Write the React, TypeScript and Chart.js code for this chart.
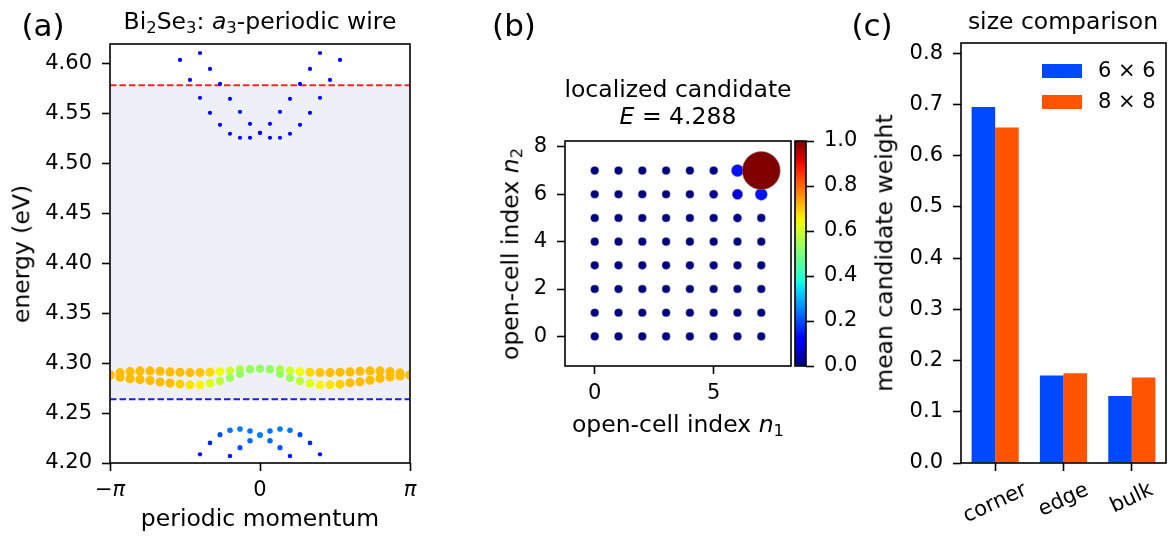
import React, { useEffect, useRef } from "react";
import { Chart, registerables } from "chart.js";

Chart.register(...registerables);

const W = 1175;
const H = 543;
const FONT = "'DejaVu Sans', 'Liberation Sans', sans-serif";
const TICK_SIZE = 21;
const LABEL_SIZE = 23.5;

// ---------------- panel (a): band structure ----------------
const momentumStepsPerPi = 15; // momentum grid k = -π + i·π/15
const momentumTickValues = [-Math.PI, 0, Math.PI];
const momentumTickLabels = ["−π", "0", "π"];
const energyTicks = [4.2, 4.25, 4.3, 4.35, 4.4, 4.45, 4.5, 4.55, 4.6];
const energyRange = [4.2, 4.62];
const conductionEdge = 4.5786;
const valenceEdge = 4.2639;

const surfaceIdx = [0, 1, 2, 3, 4, 5, 6, 7, 8, 9, 10, 11, 12, 13, 14, 15, 16, 17, 18, 19, 20, 21, 22, 23, 24, 25, 26, 27, 28, 29, 30];
const surfaceUpperE = [4.2884, 4.2906, 4.2916, 4.2923, 4.2923, 4.292, 4.2913, 4.291, 4.2906, 4.2906, 4.291, 4.2916, 4.2926, 4.294, 4.2943, 4.2946, 4.2943, 4.294, 4.2926, 4.2916, 4.291, 4.2906, 4.2906, 4.291, 4.2913, 4.292, 4.2923, 4.2923, 4.2916, 4.2903, 4.2884];
const surfaceUpperW = [0.71, 0.71, 0.71, 0.71, 0.71, 0.71, 0.71, 0.71, 0.71, 0.7, 0.68, 0.64, 0.6, 0.56, 0.54, 0.53, 0.54, 0.56, 0.6, 0.64, 0.68, 0.7, 0.71, 0.71, 0.71, 0.71, 0.71, 0.71, 0.71, 0.71, 0.71];
const surfaceLowerE = [4.2878, 4.286, 4.2845, 4.2836, 4.2826, 4.2812, 4.2801, 4.2791, 4.2784, 4.2784, 4.2799, 4.2822, 4.2853, 4.2893, 4.2936, 4.2946, 4.2936, 4.2893, 4.2853, 4.2822, 4.2799, 4.2782, 4.2786, 4.279, 4.2803, 4.2813, 4.283, 4.2846, 4.2863, 4.2872, 4.2878];
const surfaceLowerW = [0.71, 0.71, 0.71, 0.71, 0.71, 0.71, 0.71, 0.69, 0.67, 0.65, 0.62, 0.58, 0.54, 0.53, 0.53, 0.53, 0.53, 0.53, 0.54, 0.58, 0.62, 0.65, 0.67, 0.69, 0.71, 0.71, 0.71, 0.71, 0.71, 0.71, 0.71];

const condOuterIdx = [7, 8, 9, 10, 11, 12, 13, 14, 15, 16, 17, 18, 19, 20, 21, 22, 23];
const condOuterE = [4.604, 4.584, 4.566, 4.551, 4.539, 4.53, 4.526, 4.526, 4.531, 4.526, 4.526, 4.53, 4.539, 4.551, 4.566, 4.584, 4.604];
const condOuterW = [0.12, 0.12, 0.12, 0.12, 0.12, 0.12, 0.12, 0.12, 0.12, 0.12, 0.12, 0.12, 0.12, 0.12, 0.12, 0.12, 0.12];
const condInnerIdx = [9, 10, 11, 12, 13, 14, 15, 16, 17, 18, 19, 20, 21];
const condInnerE = [4.611, 4.595, 4.58, 4.565, 4.552, 4.54, 4.531, 4.54, 4.552, 4.565, 4.58, 4.595, 4.611];
const condInnerW = [0.12, 0.12, 0.12, 0.12, 0.12, 0.12, 0.12, 0.12, 0.12, 0.12, 0.12, 0.12, 0.12];

const valOuterIdx = [9, 10, 11, 12, 13, 14, 15, 16, 17, 18, 19, 20, 21];
const valOuterE = [4.2087, 4.2201, 4.2284, 4.2328, 4.2341, 4.2321, 4.2281, 4.2321, 4.2341, 4.2328, 4.2284, 4.2201, 4.2087];
const valOuterW = [0.13, 0.16, 0.2, 0.24, 0.25, 0.24, 0.25, 0.24, 0.25, 0.24, 0.2, 0.16, 0.13];
const valInnerIdx = [12, 13, 14, 15, 16, 17, 18];
const valInnerE = [4.207, 4.2153, 4.2224, 4.2281, 4.2224, 4.2153, 4.207];
const valInnerW = [0.15, 0.21, 0.23, 0.25, 0.23, 0.21, 0.15];

// ---------------- panel (b): candidate weight map ----------------
const cellN1 = [0, 1, 2, 3, 4, 5, 6, 7];
const cellN2 = [0, 1, 2, 3, 4, 5, 6, 7];
const cellWeights = [
  [0.004, 0.004, 0.004, 0.004, 0.004, 0.004, 0.004, 0.004],
  [0.004, 0.004, 0.004, 0.004, 0.004, 0.004, 0.004, 0.004],
  [0.004, 0.004, 0.004, 0.004, 0.004, 0.004, 0.004, 0.004],
  [0.004, 0.004, 0.004, 0.004, 0.004, 0.004, 0.004, 0.004],
  [0.004, 0.004, 0.004, 0.004, 0.004, 0.004, 0.004, 0.004],
  [0.004, 0.004, 0.004, 0.004, 0.004, 0.006, 0.02, 0.008],
  [0.004, 0.004, 0.004, 0.004, 0.005, 0.02, 0.08, 0.14],
  [0.004, 0.004, 0.004, 0.004, 0.005, 0.008, 0.14, 1.0],
];
const cellAxisRange = [-1.25, 8.25];
const cellXTicks = [0, 5];
const cellYTicks = [0, 2, 4, 6, 8];
const colorbarTicks = [0, 0.2, 0.4, 0.6, 0.8, 1.0];

// ---------------- panel (c): size comparison ----------------
const regionCategories = ["corner", "edge", "bulk"];
const weight6x6 = [0.695, 0.171, 0.131];
const weight8x8 = [0.655, 0.175, 0.167];
const sizeLabels = ["6 × 6", "8 × 8"];
const weightTicks = [0, 0.1, 0.2, 0.3, 0.4, 0.5, 0.6, 0.7, 0.8];
const weightRange = [0, 0.82];

// ---------------- helpers ----------------
const JET: Record<string, number[][]> = {
  r: [[0, 0], [0.35, 0], [0.66, 1], [0.89, 1], [1, 0.5]],
  g: [[0, 0], [0.125, 0], [0.375, 1], [0.64, 1], [0.91, 0], [1, 0]],
  b: [[0, 0.5], [0.11, 1], [0.34, 1], [0.65, 0], [1, 0]],
};
function seg(s: number[][], x: number) {
  for (let i = 1; i < s.length; i++) {
    if (x <= s[i][0]) {
      const [x0, y0] = s[i - 1];
      const [x1, y1] = s[i];
      return y0 + ((y1 - y0) * (x - x0)) / (x1 - x0);
    }
  }
  return s[s.length - 1][1];
}
function jet(x: number) {
  const v = Math.max(0, Math.min(1, x));
  const c = (k: string) => Math.round(255 * seg(JET[k], v));
  return `rgb(${c("r")},${c("g")},${c("b")})`;
}
const bandRadius = (w: number) => Math.sqrt(1.0 + 28 * w);
const cellRadius = (w: number) => 4 + 15 * w;
const kOf = (i: number) => -Math.PI + (i * Math.PI) / momentumStepsPerPi;

const framePlugin = {
  id: "frame",
  afterDatasetsDraw(chart: any) {
    const { ctx, chartArea: a } = chart;
    ctx.save();
    ctx.strokeStyle = "#000";
    ctx.lineWidth = 1.6;
    ctx.strokeRect(a.left, a.top, a.right - a.left, a.bottom - a.top);
    ctx.restore();
  },
};

const gridOpts = {
  display: true,
  drawOnChartArea: false,
  drawTicks: true,
  tickLength: 8,
  tickWidth: 1.6,
  tickColor: "#000",
};
const tickFont = { family: FONT, size: TICK_SIZE };

function linAxis(range: number[], ticks: number[], fmt: (v: number, i: number) => string, fit: (s: any) => void, pad = 7, font: any = tickFont) {
  return {
    type: "linear",
    min: range[0],
    max: range[1],
    afterBuildTicks: (s: any) => {
      s.ticks = ticks.map((v) => ({ value: v }));
    },
    afterFit: fit,
    ticks: { font, color: "#000", padding: pad, autoSkip: false, maxRotation: 0, callback: (v: number, i: number) => fmt(v, i) },
    grid: gridOpts,
    border: { display: false },
  };
}

function areaLayout(area: { l: number; t: number; r: number; b: number }) {
  return {
    layout: { padding: { left: 0, top: area.t, right: W - area.r, bottom: 0 } },
    xFit: (s: any) => {
      s.height = H - area.b;
    },
    yFit: (s: any) => {
      s.width = area.l;
    },
  };
}

function bandPoints(idx: number[], e: number[]) {
  return idx.map((i, j) => ({ x: kOf(i), y: e[j] }));
}
function bandDataset(idx: number[], e: number[], w: number[]) {
  return {
    data: bandPoints(idx, e),
    backgroundColor: w.map(jet),
    pointRadius: w.map(bandRadius),
    pointBorderWidth: 0,
    pointHoverRadius: w.map(bandRadius),
    showLine: false,
    order: 0,
  };
}

function makeBandChart(canvas: HTMLCanvasElement) {
  const A = { l: 110, t: 44, r: 410, b: 463 };
  const L = areaLayout(A);
  const momentumFont = (ctx: any) => ({
    family: FONT,
    size: TICK_SIZE,
    style: momentumTickLabels[ctx.index] === "0" ? "normal" : "italic",
  });
  return new Chart(canvas, {
    type: "scatter",
    data: {
      datasets: [
        {
          data: [
            { x: -Math.PI, y: conductionEdge },
            { x: Math.PI, y: conductionEdge },
          ],
          showLine: true,
          borderColor: "rgb(240,40,40)",
          borderWidth: 2,
          borderDash: [6.5, 3],
          pointRadius: 0,
          fill: { value: valenceEdge },
          backgroundColor: "#eff0f7",
          order: 10,
        },
        {
          data: [
            { x: -Math.PI, y: valenceEdge },
            { x: Math.PI, y: valenceEdge },
          ],
          showLine: true,
          borderColor: "rgb(30,30,235)",
          borderWidth: 2,
          borderDash: [6.5, 3],
          pointRadius: 0,
          order: 10,
        },
        bandDataset(condOuterIdx, condOuterE, condOuterW),
        bandDataset(condInnerIdx, condInnerE, condInnerW),
        bandDataset(valOuterIdx, valOuterE, valOuterW),
        bandDataset(valInnerIdx, valInnerE, valInnerW),
        bandDataset(surfaceIdx, surfaceLowerE, surfaceLowerW),
        bandDataset(surfaceIdx, surfaceUpperE, surfaceUpperW),
      ] as any,
    },
    options: {
      animation: false,
      responsive: false,
      devicePixelRatio: 1,
      events: [],
      layout: L.layout,
      plugins: { legend: { display: false }, tooltip: { enabled: false }, filler: { drawTime: "beforeDatasetsDraw" } as any },
      scales: {
        x: linAxis([-Math.PI, Math.PI], momentumTickValues, (_v, i) => momentumTickLabels[i], L.xFit, 7, momentumFont),
        y: linAxis(energyRange, energyTicks, (v) => v.toFixed(2), L.yFit, 10),
      } as any,
    },
    plugins: [framePlugin],
  });
}

function makeCellChart(canvas: HTMLCanvasElement) {
  const A = { l: 565, t: 141, r: 791, b: 366 };
  const L = areaLayout(A);
  const pts: any[] = [];
  cellN2.forEach((n2, r) => cellN1.forEach((n1, c) => pts.push({ x: n1, y: n2, w: cellWeights[r][c] })));
  pts.sort((p, q) => p.w - q.w);
  return new Chart(canvas, {
    type: "scatter",
    data: {
      datasets: [
        {
          data: pts.map((p) => ({ x: p.x, y: p.y })),
          backgroundColor: pts.map((p) => jet(p.w)),
          pointRadius: pts.map((p) => cellRadius(p.w)),
          pointBorderColor: "rgba(140,140,140,0.8)",
          pointBorderWidth: 0.6,
        },
      ] as any,
    },
    options: {
      animation: false,
      responsive: false,
      devicePixelRatio: 1,
      events: [],
      layout: L.layout,
      plugins: { legend: { display: false }, tooltip: { enabled: false } },
      scales: {
        x: linAxis(cellAxisRange, cellXTicks, (v) => String(v), L.xFit),
        y: linAxis(cellAxisRange, cellYTicks, (v) => String(v), L.yFit, 10),
      } as any,
    },
    plugins: [framePlugin],
  });
}

function makeColorbar(canvas: HTMLCanvasElement) {
  const A = { l: 795, t: 141, r: 806, b: 366 };
  const gradPlugin = {
    id: "jetbar",
    beforeDatasetsDraw(chart: any) {
      const { ctx, chartArea: a } = chart;
      const g = ctx.createLinearGradient(0, a.bottom, 0, a.top);
      for (let i = 0; i <= 40; i++) g.addColorStop(i / 40, jet(i / 40));
      ctx.save();
      ctx.fillStyle = g;
      ctx.fillRect(a.left, a.top, a.right - a.left, a.bottom - a.top);
      ctx.restore();
    },
  };
  return new Chart(canvas, {
    type: "scatter",
    data: { datasets: [{ data: [], pointRadius: 0 }] },
    options: {
      animation: false,
      responsive: false,
      devicePixelRatio: 1,
      events: [],
      layout: { padding: { left: A.l, top: A.t, right: 0, bottom: H - A.b } },
      plugins: { legend: { display: false }, tooltip: { enabled: false } },
      scales: {
        x: { type: "linear", display: false, min: 0, max: 1 },
        y: {
          type: "linear",
          position: "right",
          min: 0,
          max: 1,
          afterBuildTicks: (s: any) => {
            s.ticks = colorbarTicks.map((v) => ({ value: v }));
          },
          afterFit: (s: any) => {
            s.width = W - A.r;
          },
          ticks: { font: tickFont, color: "#000", padding: 10, callback: (v: number) => v.toFixed(1) },
          grid: gridOpts,
          border: { display: false },
        },
      } as any,
    },
    plugins: [gradPlugin, framePlugin],
  });
}

function makeBarChart(canvas: HTMLCanvasElement) {
  const A = { l: 961, t: 43, r: 1166, b: 463 };
  const L = areaLayout(A);
  const legendPlugin = {
    id: "innerLegend",
    afterDatasetsDraw(chart: any) {
      const { ctx, chartArea: a } = chart;
      ctx.save();
      chart.data.datasets.forEach((ds: any, i: number) => {
        const x = a.right - 124;
        const y = a.top + 21 + i * 31;
        ctx.fillStyle = ds.backgroundColor;
        ctx.fillRect(x, y, 40, 14);
        ctx.fillStyle = "#000";
        ctx.font = `${TICK_SIZE}px ${FONT}`;
        ctx.textAlign = "left";
        ctx.textBaseline = "middle";
        ctx.fillText(ds.label, x + 56, y + 8);
      });
      ctx.restore();
    },
  };
  const rotatedLabels = {
    id: "rotLabels",
    afterDraw(chart: any) {
      const { ctx } = chart;
      const xs = chart.scales.x;
      ctx.save();
      ctx.font = `${TICK_SIZE}px ${FONT}`;
      ctx.fillStyle = "#000";
      ctx.textAlign = "center";
      ctx.textBaseline = "middle";
      const ang = (25 * Math.PI) / 180;
      regionCategories.forEach((lab, i) => {
        const px = xs.getPixelForValue(i);
        const w = ctx.measureText(lab).width;
        const h = TICK_SIZE * 1.16;
        const bh = w * Math.sin(ang) + h * Math.cos(ang);
        const cy = xs.top + 15 + bh / 2;
        ctx.save();
        ctx.translate(px, cy);
        ctx.rotate(-ang);
        ctx.fillText(lab, 0, 0);
        ctx.restore();
      });
      ctx.restore();
    },
  };
  return new Chart(canvas, {
    type: "bar",
    data: {
      labels: regionCategories,
      datasets: [
        { label: sizeLabels[0], data: weight6x6, backgroundColor: "#0049ff", categoryPercentage: 0.69, barPercentage: 1 },
        { label: sizeLabels[1], data: weight8x8, backgroundColor: "#ff5500", categoryPercentage: 0.69, barPercentage: 1 },
      ],
    },
    options: {
      animation: false,
      responsive: false,
      devicePixelRatio: 1,
      events: [],
      layout: L.layout,
      plugins: { legend: { display: false }, tooltip: { enabled: false } },
      scales: {
        x: {
          type: "category",
          afterFit: L.xFit,
          ticks: { display: false },
          grid: { ...gridOpts, offset: false },
          border: { display: false },
        },
        y: linAxis(weightRange, weightTicks, (v) => v.toFixed(1), L.yFit, 10),
      } as any,
    },
    plugins: [framePlugin, legendPlugin, rotatedLabels],
  });
}

// ---------------- text overlays ----------------
function Sub({ children }: { children: React.ReactNode }) {
  return <span style={{ fontSize: "70%", position: "relative", top: "0.22em" }}>{children}</span>;
}

function TextAt({ x, baseline, size, children }: any) {
  return (
    <div
      style={{
        position: "absolute",
        left: x,
        top: baseline - 0.846 * size,
        transform: "translateX(-50%)",
        fontFamily: FONT,
        fontSize: size,
        lineHeight: 1,
        whiteSpace: "nowrap",
        color: "#000",
      }}
    >
      {children}
    </div>
  );
}

function VText({ x, y, size, children }: any) {
  return (
    <div
      style={{
        position: "absolute",
        left: x,
        top: y,
        transform: "translate(-50%, -50%) rotate(-90deg)",
        fontFamily: FONT,
        fontSize: size,
        lineHeight: 1,
        whiteSpace: "nowrap",
        color: "#000",
      }}
    >
      {children}
    </div>
  );
}

export default function App() {
  const aRef = useRef<HTMLCanvasElement>(null);
  const bRef = useRef<HTMLCanvasElement>(null);
  const cbRef = useRef<HTMLCanvasElement>(null);
  const cRef = useRef<HTMLCanvasElement>(null);

  useEffect(() => {
    const charts = [
      makeBandChart(aRef.current!),
      makeCellChart(bRef.current!),
      makeColorbar(cbRef.current!),
      makeBarChart(cRef.current!),
    ];
    return () => charts.forEach((c) => c.destroy());
  }, []);

  const cv = { position: "absolute" as const, left: 0, top: 0, width: W, height: H };
  return (
    <div style={{ position: "absolute", left: 0, top: 0, width: W, height: H, background: "#fff", overflow: "hidden" }}>
      <canvas ref={aRef} width={W} height={H} style={cv} />
      <canvas ref={bRef} width={W} height={H} style={cv} />
      <canvas ref={cbRef} width={W} height={H} style={cv} />
      <canvas ref={cRef} width={W} height={H} style={cv} />

      <TextAt x={43} baseline={36} size={31}>(a)</TextAt>
      <TextAt x={514} baseline={36} size={31}>(b)</TextAt>
      <TextAt x={872} baseline={36} size={31}>(c)</TextAt>

      <TextAt x={260} baseline={30} size={LABEL_SIZE}>
        Bi<Sub>2</Sub>Se<Sub>3</Sub>: <i>a</i>
        <Sub>3</Sub>-periodic wire
      </TextAt>
      <TextAt x={678} baseline={98} size={LABEL_SIZE}>localized candidate</TextAt>
      <TextAt x={678} baseline={125} size={LABEL_SIZE}>
        <i>E</i> = 4.288
      </TextAt>
      <TextAt x={1063} baseline={30} size={LABEL_SIZE}>size comparison</TextAt>

      <TextAt x={260} baseline={527} size={LABEL_SIZE}>periodic momentum</TextAt>
      <TextAt x={678} baseline={433} size={LABEL_SIZE}>
        open-cell index <i>n</i>
        <Sub>1</Sub>
      </TextAt>

      <VText x={21.5} y={253.5} size={LABEL_SIZE}>energy (eV)</VText>
      <VText x={510.5} y={253.5} size={LABEL_SIZE}>
        open-cell index <i>n</i>
        <Sub>2</Sub>
      </VText>
      <VText x={885} y={253} size={LABEL_SIZE}>mean candidate weight</VText>
    </div>
  );
}
